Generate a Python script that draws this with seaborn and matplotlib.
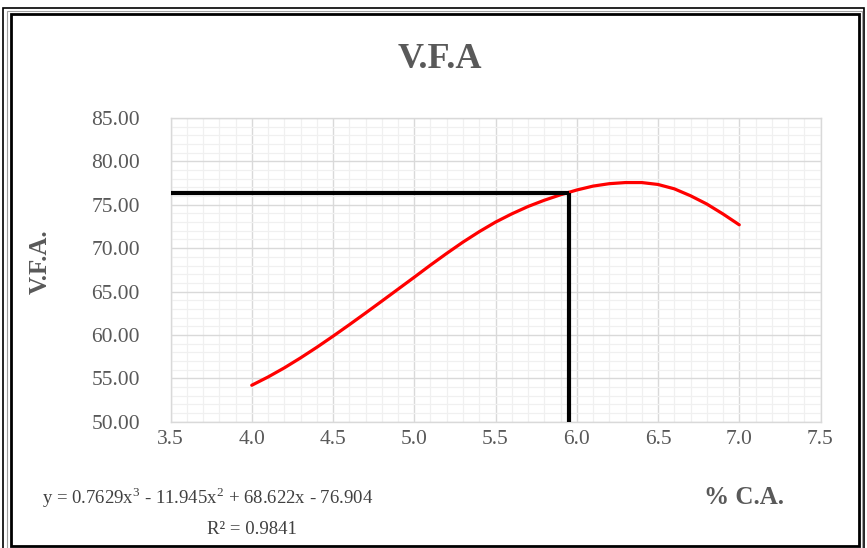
import matplotlib
matplotlib.use("Agg")
import matplotlib.pyplot as plt
from matplotlib.ticker import MultipleLocator, FormatStrFormatter
from matplotlib.patches import Rectangle
import seaborn as sns
import pandas as pd

# Data
ca_percent = [4.0, 4.1, 4.2, 4.3, 4.4, 4.5, 4.6, 4.7, 4.8, 4.9, 5.0,
              5.1, 5.2, 5.3, 5.4, 5.5, 5.6, 5.7, 5.8, 5.9, 6.0,
              6.1, 6.2, 6.3, 6.4, 6.5, 6.6, 6.7, 6.8, 6.9, 7.0]
vfa = [54.2, 55.15, 56.2, 57.35, 58.57, 59.85, 61.17, 62.52, 63.89, 65.27, 66.65,
       68.05, 69.4, 70.7, 71.9, 73.0, 73.95, 74.8, 75.52, 76.15, 76.7,
       77.15, 77.43, 77.56, 77.56, 77.34, 76.84, 76.04, 75.09, 73.94, 72.69]
optimum_ca = 5.953
optimum_vfa = 76.4
x_ticks = [3.5, 4.0, 4.5, 5.0, 5.5, 6.0, 6.5, 7.0, 7.5]
y_ticks = [50, 55, 60, 65, 70, 75, 80, 85]

title = "V.F.A"
x_label = "% C.A."
y_label = "V.F.A."
equation = "y = 0.7629x$^3$ - 11.945x$^2$ + 68.622x - 76.904"
r_squared = "R² = 0.9841"

sns.set_style("white")
plt.rcParams['font.family'] = ['Liberation Serif', 'DejaVu Serif']
plt.rcParams['mathtext.fontset'] = 'custom'
plt.rcParams['mathtext.rm'] = 'Liberation Serif'

W, H = 867, 548
fig = plt.figure(figsize=(W / 100, H / 100), dpi=100)
ax = fig.add_axes([170.5 / W, 1 - 421.7 / H, (820.5 - 170.5) / W, (421.7 - 118) / H])

df = pd.DataFrame({"ca": ca_percent, "vfa": vfa})
sns.lineplot(data=df, x="ca", y="vfa", ax=ax, color="#ff0000", linewidth=2.3, zorder=4)
for ln in ax.get_lines():
    ln.set_solid_joinstyle("round")

# optimum guide lines
ax.plot([x_ticks[0], optimum_ca], [optimum_vfa, optimum_vfa], color="black", linewidth=3.0, zorder=5,
        solid_capstyle="butt")
ax.plot([optimum_ca, optimum_ca], [y_ticks[0], optimum_vfa], color="black", linewidth=3.0, zorder=5,
        solid_capstyle="butt")

ax.set_xlim(x_ticks[0], x_ticks[-1])
ax.set_ylim(y_ticks[0], y_ticks[-1])
ax.set_xticks(x_ticks)
ax.set_yticks(y_ticks)
ax.xaxis.set_minor_locator(MultipleLocator(0.1))
ax.yaxis.set_minor_locator(MultipleLocator(1))
ax.xaxis.set_major_formatter(FormatStrFormatter("%.1f"))
ax.yaxis.set_major_formatter(FormatStrFormatter("%.2f"))
ax.grid(which="major", color="#d9d9d9", linewidth=1.0, zorder=1)
ax.grid(which="minor", color="#f0f0f0", linewidth=0.9, zorder=0)
ax.set_axisbelow(True)
for s in ax.spines.values():
    s.set_color("#d9d9d9")
    s.set_linewidth(1.0)
ax.tick_params(which="both", length=0)
ax.tick_params(axis="y", pad=22, labelsize=15.5, labelcolor="#595959")
ax.tick_params(axis="x", pad=6, labelsize=15.5, labelcolor="#595959")
ax.set_xlabel("")
ax.set_ylabel("")

fig.text(440 / W, 1 - 60 / H, title, ha="center", va="center", fontsize=26, fontweight="bold",
         color="#595959")
fig.text(40 / W, 1 - 262 / H, y_label, ha="center", va="center", rotation=90, fontsize=18,
         fontweight="bold", color="#595959")
fig.text(744 / W, 1 - 497 / H, x_label, ha="center", va="center", fontsize=18, fontweight="bold",
         color="#595959")
fig.text(208 / W, 1 - 498 / H, equation, ha="center", va="center", fontsize=13.5, color="#404040")
fig.text(252 / W, 1 - 530 / H, r_squared, ha="center", va="center", fontsize=13.5, color="#404040")

# double frame around the chart
fig.patches.append(Rectangle((3.5 / W, 1 - 560 / H), (864 - 3.5) / W, (560 - 7.5) / H,
                             transform=fig.transFigure, fill=False, edgecolor="black", linewidth=1.2))
fig.patches.append(Rectangle((7 / W, 1 - 552 / H), (862 - 7) / W, (552 - 10.5) / H,
                             transform=fig.transFigure, fill=False, edgecolor="#a0a0a0", linewidth=0.8))
fig.patches.append(Rectangle((10.5 / W, 1 - 545.5 / H), (859 - 10.5) / W, (545.5 - 13.5) / H,
                             transform=fig.transFigure, fill=False, edgecolor="black", linewidth=2.0))

fig.savefig("out.png", dpi=100)
